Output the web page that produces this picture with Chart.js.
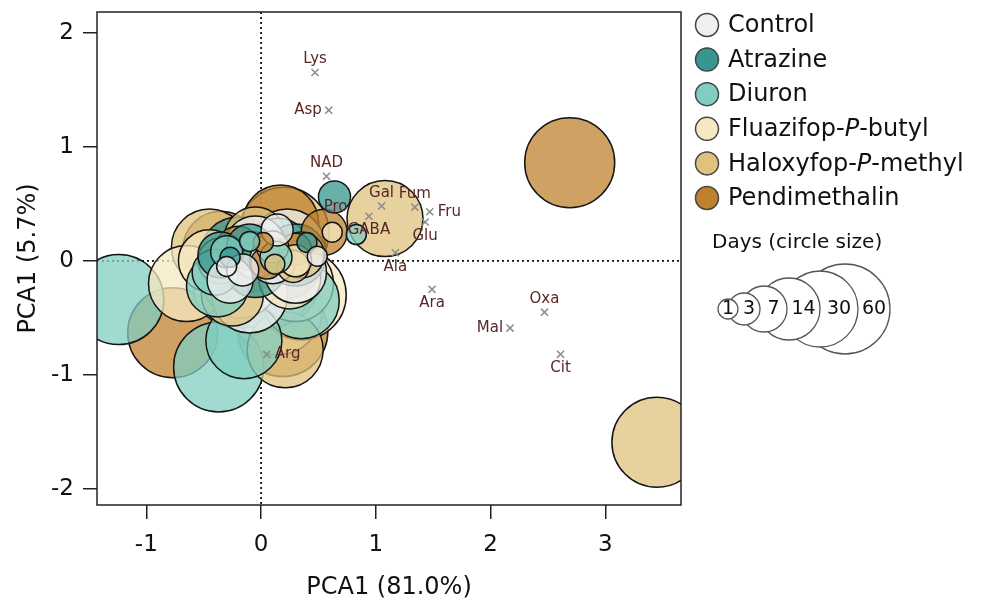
<!DOCTYPE html>
<html>
<head>
<meta charset="utf-8">
<script src="https://cdn.jsdelivr.net/npm/chart.js@4/dist/chart.umd.min.js"></script>
<style>
  html, body { margin: 0; padding: 0; background: #fff; }
</style>
</head>
<body>
<canvas id="pcaChart" width="989" height="608"></canvas>
<script>
// categories
const treatments = ['Control', 'Atrazine', 'Diuron', 'Fluazifop-P-butyl', 'Haloxyfop-P-methyl', 'Pendimethalin'];
const days = [1, 3, 7, 14, 30, 60];
const xTicks = [-1, 0, 1, 2, 3];
const yTicks = [-2, -1, 0, 1, 2];

// sample scores: [PC1, PC2, day]
const control = [[0.49, 0.04, 1], [-0.3, -0.05, 1], [0.14, 0.27, 3], [-0.16, -0.08, 3], [-0.27, -0.17, 7], [0.1, 0.0, 7],
                 [-0.05, 0.12, 14], [0.3, -0.1, 14], [-0.18, -0.17, 30], [0.23, 0.12, 30], [-0.1, -0.3, 30], [0.05, -0.2, 60]];
const atrazine = [[0.40, 0.16, 1], [-0.27, 0.03, 1], [0.64, 0.56, 3], [-0.35, 0.05, 7], [-0.1, 0.12, 7], [-0.05, -0.05, 14],
                  [0.3, 0.05, 14], [-0.2, 0.05, 30], [0.2, 0.0, 30], [0.12, -0.17, 60], [-0.15, -0.05, 60]];
const diuron = [[0.83, 0.23, 1], [-0.1, 0.17, 1], [0.13, 0.03, 3], [-0.3, 0.08, 3], [-0.4, -0.1, 7], [-0.38, -0.22, 14],
                [0.15, 0.1, 14], [0.35, -0.35, 30], [-0.15, -0.7, 30], [-0.05, -0.1, 60], [-0.37, -0.93, 60], [-1.24, -0.34, 60]];
const fluazifop = [[0.62, 0.25, 1], [0.3, 0.0, 3], [0.1, 0.12, 3], [-0.05, 0.05, 7], [0.25, -0.15, 14], [-0.45, 0.0, 14],
                   [-0.65, -0.2, 30], [0.3, -0.2, 30], [0.14, -0.43, 60], [0.35, -0.3, 60], [-0.2, -0.2, 60]];
const haloxyfop = [[0.12, -0.03, 1], [0.28, -0.05, 3], [-0.35, 0.0, 7], [0.35, 0.05, 7], [-0.25, -0.3, 14], [-0.05, 0.2, 14],
                   [-0.45, 0.12, 30], [0.21, -0.78, 30], [1.08, 0.37, 30], [0.2, 0.25, 60], [3.45, -1.59, 60]];
const pendimethalin = [[0.02, 0.16, 1], [0.05, -0.02, 3], [0.3, 0.1, 3], [-0.2, 0.1, 7], [0.55, 0.25, 7], [-0.1, 0.0, 14],
                       [0.17, 0.33, 30], [-0.35, 0.1, 30], [-0.1, -0.25, 30], [-0.77, -0.63, 60], [0.19, -0.62, 60], [2.69, 0.86, 60]];

// metabolite loadings
const metaNames = ['Lys', 'Asp', 'NAD', 'Pro', 'Gal', 'GABA', 'Fum', 'Fru', 'Glu', 'Ala', 'Ara', 'Oxa', 'Mal', 'Cit', 'Arg'];
const metaX = [0.47, 0.59, 0.57, 0.65, 1.05, 0.94, 1.34, 1.47, 1.43, 1.17, 1.49, 2.47, 2.17, 2.61, 0.05];
const metaY = [1.65, 1.32, 0.74, 0.47, 0.48, 0.39, 0.47, 0.43, 0.34, 0.07, -0.25, -0.45, -0.59, -0.82, -0.82];

const FONT = 'DejaVu Sans';
const colors = ['#f0f0f0', '#35978f', '#80cdc1', '#f6e8c3', '#dfc27d', '#bf812d'];
const fills = ['rgba(240,240,240,0.75)', 'rgba(53,151,143,0.75)', 'rgba(128,205,193,0.75)',
               'rgba(246,232,195,0.75)', 'rgba(223,194,125,0.75)', 'rgba(191,129,45,0.75)'];
const dayRadius = { 1: 10, 3: 16, 7: 23, 14: 31, 30: 38, 60: 45 };
const labelSide = { Lys: 'above', Asp: 'left', NAD: 'above', Pro: 'center', Gal: 'above', GABA: 'below',
                    Fum: 'above', Fru: 'right', Glu: 'below', Ala: 'below', Ara: 'below', Oxa: 'above',
                    Mal: 'left', Cit: 'below', Arg: 'right' };

const groups = [control, atrazine, diuron, fluazifop, haloxyfop, pendimethalin];

// first dataset is drawn on top, so: crosses, then small days to big days
const datasets = [{
  type: 'scatter',
  label: 'metabolites',
  data: metaNames.map((n, i) => ({ x: metaX[i], y: metaY[i] })),
  pointStyle: 'crossRot',
  pointRadius: 5,
  borderColor: '#8c8c8c',
  borderWidth: 1.5,
  clip: 0
}];
days.forEach(d => {
  groups.forEach((g, gi) => {
    const pts = g.filter(p => p[2] === d).map(p => ({ x: p[0], y: p[1], r: dayRadius[d] }));
    if (!pts.length) return;
    datasets.push({
      type: 'bubble',
      label: treatments[gi] + ' ' + d,
      data: pts,
      backgroundColor: fills[gi],
      borderColor: '#151515',
      borderWidth: 1.5,
      clip: 0
    });
  });
});
datasets.forEach((ds, i) => { ds.order = i; });

function richText(ctx, parts, x, y, size) {
  let cx = x;
  parts.forEach(p => {
    const it = typeof p !== 'string';
    const t = it ? p.i : p;
    ctx.font = (it ? 'italic ' : '') + size + 'px ' + FONT;
    ctx.fillText(t, cx, y);
    cx += ctx.measureText(t).width;
  });
}

const pcaDecor = {
  id: 'pcaDecor',
  beforeDatasetsDraw(chart) {
    const { ctx, chartArea: a, scales: { x, y } } = chart;
    const x0 = x.getPixelForValue(0), y0 = y.getPixelForValue(0);
    ctx.save();
    ctx.strokeStyle = '#111';
    ctx.lineWidth = 1.8;
    ctx.setLineDash([2, 3]);
    ctx.beginPath();
    ctx.moveTo(x0, a.top); ctx.lineTo(x0, a.bottom);
    ctx.moveTo(a.left, y0); ctx.lineTo(a.right, y0);
    ctx.stroke();
    ctx.restore();
  },
  afterDatasetsDraw(chart) {
    const { ctx, scales: { x, y } } = chart;
    ctx.save();
    ctx.fillStyle = '#5a2626';
    ctx.font = '15px ' + FONT;
    metaNames.forEach((n, i) => {
      let px = x.getPixelForValue(metaX[i]), py = y.getPixelForValue(metaY[i]);
      const side = labelSide[n];
      ctx.textAlign = 'center';
      ctx.textBaseline = 'middle';
      if (side === 'above') py -= 13;
      else if (side === 'below') py += 14;
      else if (side === 'left') { ctx.textAlign = 'right'; px -= 7; }
      else if (side === 'right') { ctx.textAlign = 'left'; px += 8; }
      ctx.fillText(n, px, py);
    });
    ctx.restore();
  },
  afterDraw(chart) {
    const { ctx, chartArea: a } = chart;
    ctx.save();
    // frame
    ctx.strokeStyle = '#222';
    ctx.lineWidth = 1.5;
    ctx.strokeRect(a.left, a.top, a.right - a.left, a.bottom - a.top);

    // treatment legend
    const names = [['Control'], ['Atrazine'], ['Diuron'], ['Fluazifop-', { i: 'P' }, '-butyl'],
                   ['Haloxyfop-', { i: 'P' }, '-methyl'], ['Pendimethalin']];
    ctx.textBaseline = 'middle';
    ctx.textAlign = 'left';
    names.forEach((parts, i) => {
      const cy = 25 + i * 34.6;
      ctx.beginPath();
      ctx.arc(707, cy, 11.5, 0, Math.PI * 2);
      ctx.fillStyle = colors[i];
      ctx.fill();
      ctx.strokeStyle = '#444';
      ctx.lineWidth = 1.5;
      ctx.stroke();
      ctx.fillStyle = '#111';
      richText(ctx, parts, 728, cy + 1, 24);
    });

    // size legend: right edges of the nested circles
    ctx.font = '20px ' + FONT;
    ctx.fillText('Days (circle size)', 712, 243);
    const rights = [738, 760, 787, 820, 858, 890];
    for (let i = days.length - 1; i >= 0; i--) {
      const r = dayRadius[days[i]];
      ctx.beginPath();
      ctx.arc(rights[i] - r, 309, r, 0, Math.PI * 2);
      ctx.fillStyle = '#fff';
      ctx.fill();
      ctx.strokeStyle = '#555';
      ctx.lineWidth = 1.3;
      ctx.stroke();
    }
    ctx.fillStyle = '#111';
    ctx.font = '19px ' + FONT;
    ctx.textAlign = 'center';
    days.forEach((d, i) => {
      const left = i === 0 ? rights[0] - 2 * dayRadius[d] : rights[i - 1];
      ctx.fillText(String(d), (left + rights[i]) / 2, 309);
    });
    ctx.restore();
  }
};

new Chart(document.getElementById('pcaChart'), {
  type: 'bubble',
  data: { datasets },
  options: {
    responsive: false,
    animation: false,
    events: [],
    layout: { autoPadding: false, padding: { top: 12, right: 308, left: 0, bottom: 0 } },
    plugins: { legend: { display: false }, tooltip: { enabled: false } },
    scales: {
      x: {
        type: 'linear',
        min: -1.43,
        max: 3.66,
        afterBuildTicks: ax => { ax.ticks = xTicks.map(v => ({ value: v })); },
        afterFit: s => { s.height = 103; s.paddingLeft = 0; s.paddingRight = 0; },
        border: { display: false },
        grid: { drawOnChartArea: false, drawTicks: true, tickLength: 14, color: '#222', lineWidth: 1.5 },
        ticks: { color: '#111', font: { family: FONT, size: 23 }, padding: 12 },
        title: { display: true, text: 'PCA1 (81.0%)', color: '#111', font: { family: FONT, size: 24 }, padding: { top: 0, bottom: 6 } }
      },
      y: {
        type: 'linear',
        min: -2.14,
        max: 2.18,
        afterBuildTicks: ax => { ax.ticks = yTicks.map(v => ({ value: v })); },
        afterFit: s => { s.width = 97; s.paddingTop = 0; s.paddingBottom = 0; },
        border: { display: false },
        grid: { drawOnChartArea: false, drawTicks: true, tickLength: 14, color: '#222', lineWidth: 1.5 },
        ticks: { color: '#111', font: { family: FONT, size: 23 }, padding: 9 },
        title: { display: true, text: 'PCA1 (5.7%)', color: '#111', font: { family: FONT, size: 24 }, padding: { top: 14, bottom: 0 } }
      }
    }
  },
  plugins: [pcaDecor]
});
</script>
</body>
</html>
